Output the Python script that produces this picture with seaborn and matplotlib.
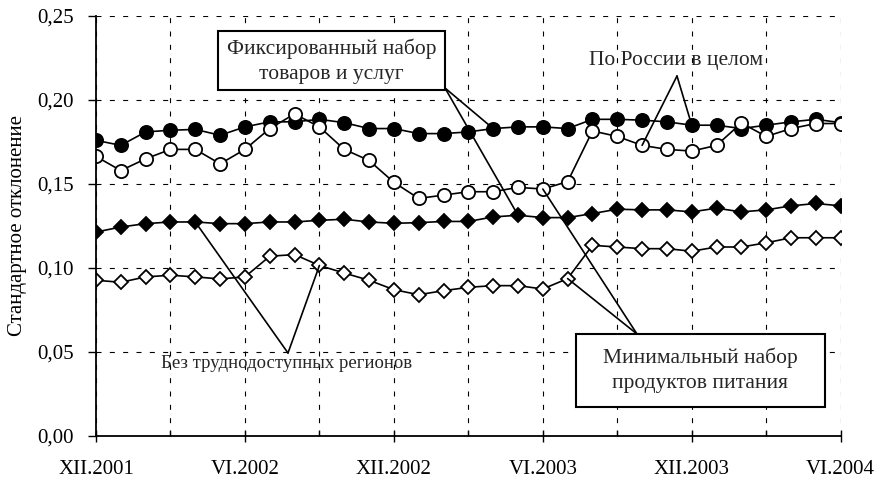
import matplotlib
matplotlib.use("Agg")
import matplotlib.pyplot as plt
import seaborn as sns
from matplotlib.patches import Rectangle
from matplotlib.ticker import FixedLocator, MultipleLocator, FuncFormatter

# ---------------- data ----------------
months = list(range(31))  # XII.2001 ... VI.2004, monthly
tick_pos = [0, 6, 12, 18, 24, 30]
tick_labels = ["XII.2001", "VI.2002", "XII.2002", "VI.2003", "XII.2003", "VI.2004"]

# Fixed set of goods and services, whole Russia (filled circles)
fixed_all = [0.176, 0.173, 0.181, 0.182, 0.1825, 0.179, 0.184, 0.187, 0.187, 0.1885,
             0.1865, 0.183, 0.183, 0.180, 0.180, 0.181, 0.183, 0.184, 0.184, 0.183,
             0.1885, 0.1885, 0.188, 0.187, 0.185, 0.185, 0.183, 0.185, 0.187, 0.1885,
             0.1865]
# Minimal food set, whole Russia (open circles)
food_all = [0.1664, 0.158, 0.165, 0.1706, 0.1706, 0.162, 0.1706, 0.183, 0.1917, 0.184,
            0.1706, 0.164, 0.151, 0.1414, 0.1434, 0.1454, 0.1454, 0.148, 0.147, 0.1514,
            0.1816, 0.1783, 0.173, 0.1706, 0.1696, 0.173, 0.1863, 0.1783, 0.183, 0.186,
            0.186]
# Fixed set, without hard-to-reach regions (filled diamonds)
fixed_excl = [0.1214, 0.1244, 0.1264, 0.1274, 0.1274, 0.1264, 0.1264, 0.1274, 0.1274, 0.1284,
              0.129, 0.1274, 0.1266, 0.127, 0.1277, 0.1277, 0.1304, 0.1314, 0.130, 0.130,
              0.1324, 0.135, 0.1346, 0.1346, 0.1334, 0.1356, 0.1334, 0.1346, 0.137, 0.1384,
              0.137]
# Minimal food set, without hard-to-reach regions (open diamonds)
food_excl = [0.0927, 0.0915, 0.0947, 0.0957, 0.0947, 0.0935, 0.0947, 0.107, 0.108, 0.1015,
             0.097, 0.0927, 0.0871, 0.0841, 0.0865, 0.0885, 0.0895, 0.0895, 0.0875, 0.0937,
             0.1135, 0.1125, 0.1115, 0.1115, 0.110, 0.1125, 0.1125, 0.115, 0.118, 0.118,
             0.118]

# ---------------- style ----------------
sns.set_theme(style="white")
plt.rcParams['font.family'] = ['Liberation Serif', 'DejaVu Serif']
FS = 15
FS_BOX = 15.5

fig = plt.figure(figsize=(8.83, 4.82), dpi=100)
L, R, T, B = 96, 840.7, 16, 436
ax = fig.add_axes([L / 883, 1 - B / 482, (R - L) / 883, (B - T) / 482])

line_kw = dict(color="black", linewidth=1.2, markeredgecolor="black",
               markeredgewidth=1.3, ax=ax)
sns.lineplot(x=months, y=fixed_excl, marker="D", markersize=7.5,
             markerfacecolor="black", **line_kw)
sns.lineplot(x=months, y=food_excl, marker="D", markersize=7.5,
             markerfacecolor="white", **line_kw)
sns.lineplot(x=months, y=fixed_all, marker="o", markersize=9.5,
             markerfacecolor="black", **line_kw)
sns.lineplot(x=months, y=food_all, marker="o", markersize=9.5,
             markerfacecolor="white", **line_kw)

ax.set_xlim(0, 30)
ax.set_ylim(0, 0.25)
ax.xaxis.set_major_locator(FixedLocator(tick_pos))
ax.set_xticklabels(tick_labels)
ax.xaxis.set_minor_locator(MultipleLocator(3))
ax.yaxis.set_major_locator(MultipleLocator(0.05))
ax.yaxis.set_major_formatter(FuncFormatter(lambda v, p: f"{v:.2f}".replace(".", ",")))

ax.set_axisbelow(True)
grid_kw = dict(color="black", linewidth=0.8, linestyle=(0, (4.5, 7.5)))
ax.grid(True, axis="x", which="both", **grid_kw)
ax.grid(True, axis="y", which="major", **grid_kw)

for s in ["top", "right"]:
    ax.spines[s].set_visible(False)
for s in ["left", "bottom"]:
    ax.spines[s].set_color("black")
    ax.spines[s].set_linewidth(1.3)

ax.tick_params(axis="y", which="major", left=True, direction="out", length=6,
               width=1, color="black", labelsize=FS, pad=10, labelcolor="black")
ax.tick_params(axis="x", which="major", bottom=True, direction="inout", length=9,
               width=1, color="black", labelsize=FS, pad=13, labelcolor="black")
ax.tick_params(axis="x", which="minor", bottom=True, direction="in", length=4,
               width=1, color="black")

ax.set_ylabel("Стандартное отклонение", fontsize=FS, color="black")
ax.yaxis.set_label_coords((27 - L) / (R - L), 0.5)
ax.set_xlabel("")


def fx(px):
    return (px - L) / (R - L)


def fy(py):
    return (B - py) / (B - T)


ann_kw = dict(arrowprops=dict(arrowstyle="-", color="black", lw=1.2,
                              shrinkA=0, shrinkB=0),
              textcoords="axes fraction", xycoords="data", zorder=3)

# Fixed set box
ax.add_patch(Rectangle((fx(218), fy(90)), fx(445) - fx(218), fy(31) - fy(90),
                       transform=ax.transAxes, facecolor="white", edgecolor="black",
                       linewidth=1.5, zorder=4, clip_on=False))
ax.text(fx(331.5), fy(61), "Фиксированный набор\nтоваров и услуг", transform=ax.transAxes,
        ha="center", va="center", fontsize=FS_BOX, linespacing=1.4, zorder=5)
ax.annotate("", xy=(16, fixed_all[16]), xytext=(fx(445), fy(88)), **ann_kw)
ax.annotate("", xy=(17, fixed_excl[17]), xytext=(fx(445), fy(88)), **ann_kw)

# Minimal food box
ax.add_patch(Rectangle((fx(576), fy(407)), fx(825) - fx(576), fy(334) - fy(407),
                       transform=ax.transAxes, facecolor="white", edgecolor="black",
                       linewidth=1.5, zorder=4, clip_on=False))
ax.text(fx(700.5), fy(370), "Минимальный набор\nпродуктов питания", transform=ax.transAxes,
        ha="center", va="center", fontsize=FS_BOX, linespacing=1.4, zorder=5)
ax.annotate("", xy=(18, food_all[18]), xytext=(fx(637), fy(334)), **ann_kw)
ax.annotate("", xy=(19, food_excl[19]), xytext=(fx(637), fy(334)), **ann_kw)

# Whole Russia label
ax.text(fx(676.5), fy(60), "По России в целом", transform=ax.transAxes,
        ha="center", va="center", fontsize=FS_BOX, zorder=5)
ax.annotate("", xy=(22, food_all[22]), xytext=(fx(677), fy(76)), **ann_kw)
ax.annotate("", xy=(24, fixed_all[24]), xytext=(fx(677), fy(76)), **ann_kw)

# Without hard-to-reach regions label
ax.text(fx(287), fy(363), "Без труднодоступных регионов", transform=ax.transAxes,
        ha="center", va="center", fontsize=13.5, zorder=5)
ax.annotate("", xy=(4, fixed_excl[4]), xytext=(fx(288), fy(353)), **ann_kw)
ax.annotate("", xy=(9, food_excl[9]), xytext=(fx(288), fy(353)), **ann_kw)

fig.savefig("out.png", dpi=100, facecolor="white")
